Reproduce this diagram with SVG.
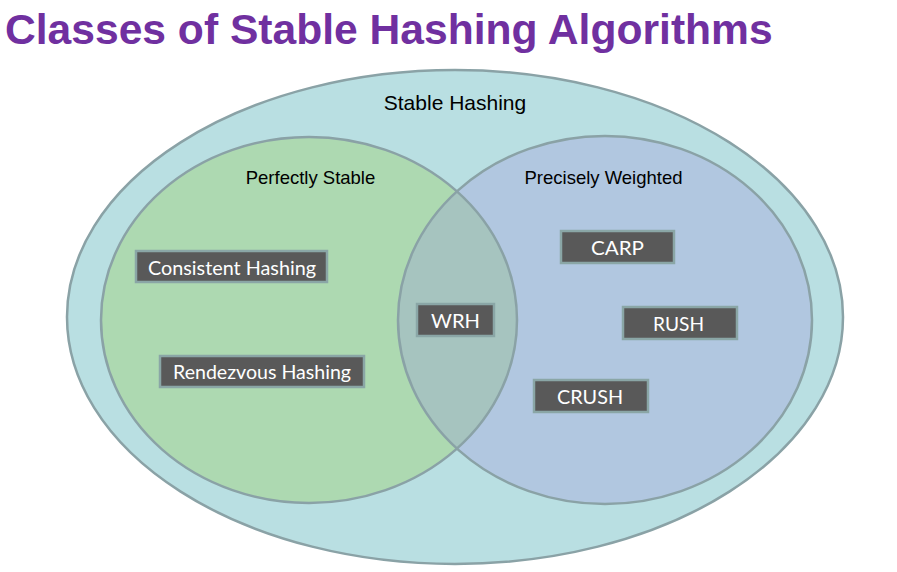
<svg xmlns="http://www.w3.org/2000/svg" width="897" height="572" viewBox="0 0 897 572">
<style>
.title{font-family:"Liberation Sans",Arial,sans-serif;font-weight:bold;font-size:42.6px;fill:#7030A0}
.set{font-family:"Liberation Sans",Arial,sans-serif;font-size:18.5px;fill:#000;text-anchor:middle}
.box rect{fill:#595959;stroke:#8AA6A6;stroke-width:2.5}
.box text{font-family:Lato,"Open Sans",sans-serif;font-size:20px;fill:#fff;text-anchor:middle}
.ring{stroke:#8AA2A6;stroke-width:2.5}
</style>
<defs>
<clipPath id="greenClip"><ellipse cx="309" cy="320" rx="208" ry="183"/></clipPath>
</defs>
<rect width="897" height="572" fill="#fff"/>
<text class="title" x="5" y="44">Classes of Stable Hashing Algorithms</text>
<g id="stable-hashing">
<ellipse class="ring" cx="455" cy="317" rx="388" ry="247" fill="#B9DFE2"/>
<text class="set" x="455" y="110" style="font-size:21px">Stable Hashing</text>
</g>
<g id="perfectly-stable">
<ellipse cx="309" cy="320" rx="208" ry="183" fill="#ADD9B1"/>
</g>
<g id="precisely-weighted">
<ellipse cx="605" cy="320" rx="207" ry="184" fill="#B1C7E0"/>
<ellipse cx="605" cy="320" rx="207" ry="184" fill="#A6C4BF" clip-path="url(#greenClip)"/>
</g>
<g id="outlines" fill="none">
<ellipse class="ring" cx="309" cy="320" rx="208" ry="183"/>
<ellipse class="ring" cx="605" cy="320" rx="207" ry="184"/>
</g>
<text class="set" x="310.5" y="184">Perfectly Stable</text>
<text class="set" x="603.5" y="184">Precisely Weighted</text>
<g id="consistent-hashing" class="box"><rect x="136" y="251" width="191" height="31"/><text x="232" y="274.5" textLength="168" lengthAdjust="spacingAndGlyphs">Consistent Hashing</text></g>
<g id="rendezvous-hashing" class="box"><rect x="160" y="356" width="204" height="31"/><text x="262" y="379" textLength="178" lengthAdjust="spacingAndGlyphs">Rendezvous Hashing</text></g>
<g id="wrh" class="box"><rect x="417" y="304" width="77" height="32"/><text x="455.5" y="327.5" textLength="49" lengthAdjust="spacingAndGlyphs">WRH</text></g>
<g id="carp" class="box"><rect x="561" y="231" width="113" height="32"/><text x="617.5" y="255" textLength="53" lengthAdjust="spacingAndGlyphs">CARP</text></g>
<g id="rush" class="box"><rect x="623" y="307" width="114" height="32"/><text x="678.5" y="331" textLength="51" lengthAdjust="spacingAndGlyphs">RUSH</text></g>
<g id="crush" class="box"><rect x="534" y="380" width="114" height="32"/><text x="590" y="403.5" textLength="66" lengthAdjust="spacingAndGlyphs">CRUSH</text></g>
<g id="connectors"></g>
</svg>
